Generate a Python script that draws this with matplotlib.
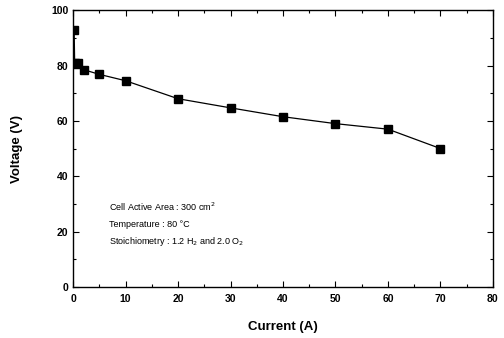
import matplotlib
matplotlib.use('Agg')
import matplotlib.pyplot as plt
from matplotlib.ticker import MultipleLocator

plt.rcParams['font.family'] = ['Liberation Sans', 'DejaVu Sans']

# Polarization data
current = [0.2, 0.3, 0.5, 1, 2, 5, 10, 20, 30, 40, 50, 60, 70]
voltage = [93, 81, 80.5, 81, 78.5, 76.8, 74.5, 68, 64.7, 61.5, 59, 57, 50]

notes = ['Cell Active Area : 300 cm$^2$',
         'Temperature : 80 \u00b0C',
         'Stoichiometry : 1.2 H$_2$ and 2.0 O$_2$']
note_y = [29, 22.5, 16.5]

fig = plt.figure(figsize=(5.04, 3.38), dpi=100)
ax = fig.add_axes([0.145, 0.151, 0.833, 0.819])

ax.plot(current, voltage, color='black', linewidth=0.9,
        marker='s', markersize=5.5, markerfacecolor='black')

ax.set_xlim(0, 80)
ax.set_ylim(0, 100)
ax.xaxis.set_major_locator(MultipleLocator(10))
ax.xaxis.set_minor_locator(MultipleLocator(5))
ax.yaxis.set_major_locator(MultipleLocator(20))
ax.yaxis.set_minor_locator(MultipleLocator(10))
ax.tick_params(which='both', direction='in', top=True, right=True,
               labelsize=7.5, width=0.8)
ax.tick_params(which='major', length=4)
ax.tick_params(which='minor', length=2)
ax.tick_params(axis='x', pad=5)
for lbl in ax.get_xticklabels() + ax.get_yticklabels():
    lbl.set_fontweight('bold')
for s in ax.spines.values():
    s.set_linewidth(1.0)

ax.set_xlabel('Current (A)', fontsize=9.5, fontweight='bold', labelpad=12)
ax.set_ylabel('Voltage (V)', fontsize=9.5, fontweight='bold', labelpad=20)

for t, y in zip(notes, note_y):
    ax.text(6.8, y, t, fontsize=6.5, va='center', ha='left')

fig.savefig('out.png', dpi=100)
